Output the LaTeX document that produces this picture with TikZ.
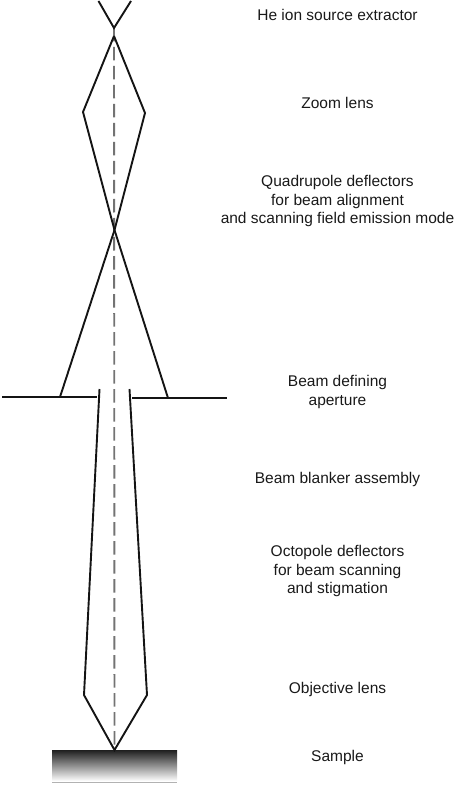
\documentclass[tikz,border=0pt]{standalone}
\usepackage{fontspec}
\setmainfont{Liberation Sans}
\begin{document}
\begin{tikzpicture}[x=1pt,y=-1pt,
  beam/.style={line width=1.9pt,black!92,line join=miter},
  axis/.style={line width=1.9pt,black!55,dash pattern=on 13.5pt off 5.5pt},
  lbl/.style={align=center,font=\fontsize{15.5pt}{18.9pt}\selectfont,inner sep=0pt,text=black!90}]
\useasboundingbox (0,0) rectangle (454,786);
\shade[top color=black!88,bottom color=white] (52,750) rectangle (177,781);
\draw[black!30,line width=1pt] (52,782) -- (177,782);
\coordinate (ext) at (114,28);
\coordinate (tip) at (114.5,750);
\draw[axis] (ext) -- (tip);
\draw[beam] (98.5,1) -- (ext) -- (131,1);
\coordinate (zoomtop) at (114,36);
\coordinate (cross) at (114.5,230);
\draw[beam] (zoomtop) -- (83,112) -- (cross) -- (168,398);
\draw[beam] (zoomtop) -- (145,113) -- (cross) -- (60,397);
\draw[beam] (2,397) -- (97,397);
\draw[beam] (132,398) -- (227,398);
\draw[beam] (99.5,389) -- (84,695) -- (tip) -- (147,695) -- (129.5,389);
\node[lbl] (a) at (337.5,15) {He ion source extractor};
\node[lbl] (b) at (337.5,103) {Zoom lens};
\node[lbl] (c) at (337.5,201) {Quadrupole deflectors\\for beam alignment\\and scanning field emission mode};
\node[lbl] (d) at (337.5,392) {Beam defining\\aperture};
\node[lbl] (e) at (337.5,479.5) {Beam blanker assembly};
\node[lbl] (f) at (337.5,571) {Octopole deflectors\\for beam scanning\\and stigmation};
\node[lbl] (g) at (337.5,689) {Objective lens};
\node[lbl] (h) at (337.5,757.5) {Sample};
\end{tikzpicture}
\end{document}
